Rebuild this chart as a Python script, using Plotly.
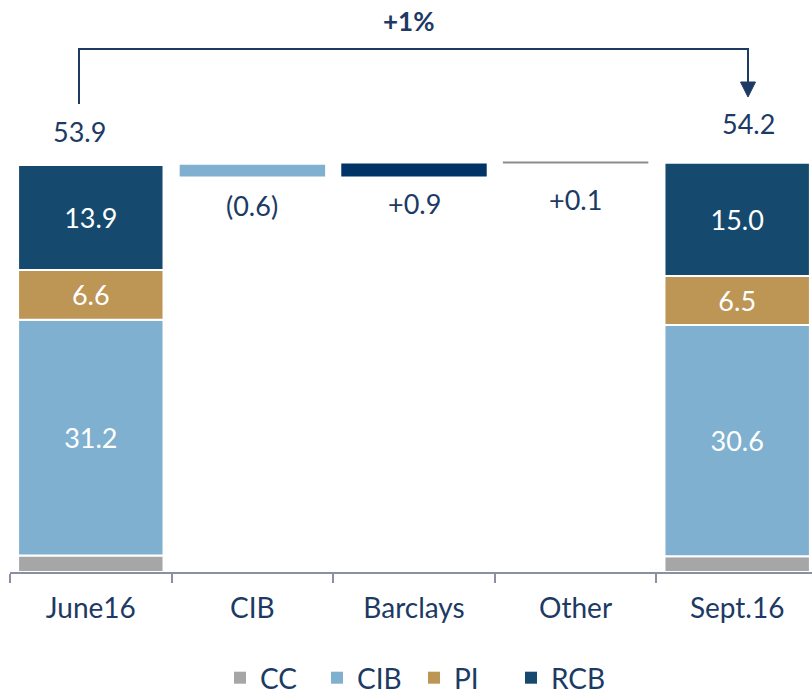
import numpy as np
import plotly.graph_objects as go

# ---------------- data ----------------
categories = ["June16", "CIB", "Barclays", "Other", "Sept.16"]
end_points = ["June16", "Sept.16"]
segments = ["CC", "CIB", "PI", "RCB"]
cc_values = [2.2, 2.1]
cib_values = [31.2, 30.6]
pi_values = [6.6, 6.5]
rcb_values = [13.9, 15.0]
segment_values = [cc_values, cib_values, pi_values, rcb_values]
segment_show_label = [False, True, True, True]
totals = [53.9, 54.2]

bridge_cats = ["CIB", "Barclays", "Other"]
bridge_labels = ["(0.6)", "+0.9", "+0.1"]
# extents of the bridge bars as drawn in the picture (axis units)
bridge_top = [53.95, 54.1, 54.37]
bridge_bottom = [52.4, 52.4, 54.1]
bridge_label_y = [48.5, 48.8, 49.3]
change_label = "+1%"

# ---------------- style ----------------
seg_colors = ["#a6a6a6", "#80b0cf", "#bd9555", "#154a6e"]
bridge_colors = ["#80b0cf", "#003366", "#8c8c8c"]
NAVY = "#1c3a64"
FONT = "Lato"
W, H = 812, 694
ML, MB = 10, 122
PLOT_H = H - MB
PX_PER_UNIT = 7.55
Y_MAX = PLOT_H / PX_PER_UNIT
CAT_PX = 161.6
X_MAX = -0.5 + (W - ML) / CAT_PX

fig = go.Figure()

base = np.zeros(len(end_points))
for name, vals, color, show in zip(segments, segment_values, seg_colors, segment_show_label):
    vals = np.array(vals)
    fig.add_trace(go.Bar(
        name=name, x=end_points, y=vals, base=base.copy(),
        marker=dict(color=color, line=dict(color="white", width=2)),
        text=[f"{v:.1f}" if show else "" for v in vals],
        textposition="inside", insidetextanchor="middle",
        textfont=dict(color="white", size=27, family=FONT),
        constraintext="none", hoverinfo="skip", showlegend=False,
    ))
    base = base + vals

# legend entries (solid squares, no white outline)
for name, color in zip(segments, seg_colors):
    fig.add_trace(go.Bar(name=name, x=[None], y=[None],
                         marker=dict(color=color, line=dict(width=0)),
                         showlegend=True, hoverinfo="skip"))

fig.add_trace(go.Bar(
    x=bridge_cats,
    y=np.array(bridge_top) - np.array(bridge_bottom),
    base=bridge_bottom,
    marker=dict(color=bridge_colors, line=dict(width=0)),
    showlegend=False, hoverinfo="skip",
))

annotations = []
for c, lab, ly in zip(bridge_cats, bridge_labels, bridge_label_y):
    annotations.append(dict(x=c, y=ly, text=lab, showarrow=False,
                            font=dict(size=27, color=NAVY, family=FONT),
                            xanchor="center", yanchor="middle"))


def px_x(p):
    return (p - ML) / (W - ML)


def px_y(p):
    return (PLOT_H - p) / PLOT_H


# total labels above the end bars
total_px_x = [79, 748]
total_px_y = [132, 124]
for t, xp, yp in zip(totals, total_px_x, total_px_y):
    annotations.append(dict(xref="paper", yref="paper", x=px_x(xp), y=px_y(yp),
                            text=f"{t:.1f}", showarrow=False,
                            font=dict(size=27, color=NAVY, family=FONT),
                            xanchor="center", yanchor="middle"))

annotations.append(dict(xref="paper", yref="paper", x=px_x(408), y=px_y(21),
                        text=f"<b>{change_label}</b>", showarrow=False,
                        font=dict(size=26, color=NAVY, family=FONT),
                        xanchor="center", yanchor="middle"))

shapes = []
lx, rx, top_y, lbot = 79, 748, 49, 104
abase, atip, ahw = 82, 97, 7.5
shapes.append(dict(type="path", xref="paper", yref="paper",
                   path=(f"M{px_x(lx)},{px_y(lbot)} L{px_x(lx)},{px_y(top_y)} "
                         f"L{px_x(rx)},{px_y(top_y)} L{px_x(rx)},{px_y(abase)}"),
                   line=dict(color=NAVY, width=2)))
shapes.append(dict(type="path", xref="paper", yref="paper",
                   path=(f"M{px_x(rx-ahw)},{px_y(abase)} L{px_x(rx+ahw)},{px_y(abase)} "
                         f"L{px_x(rx)},{px_y(atip)} Z"),
                   fillcolor=NAVY, line=dict(color=NAVY, width=1)))

fig.update_layout(
    width=W, height=H,
    margin=dict(l=ML, r=0, t=0, b=MB, autoexpand=False),
    barmode="overlay", bargap=0.1,
    plot_bgcolor="white", paper_bgcolor="white",
    font=dict(family=FONT, color=NAVY, size=26),
    xaxis=dict(type="category", categoryorder="array", categoryarray=categories,
               range=[-0.5, X_MAX], showline=True, linecolor="#8a8fa3", linewidth=2,
               ticks="outside", tickson="boundaries", ticklen=9, tickwidth=2,
               tickcolor="#8a8fa3", showgrid=False, zeroline=False,
               tickfont=dict(size=28, color=NAVY, family=FONT),
               ticklabelstandoff=10, automargin=False),
    yaxis=dict(range=[0, Y_MAX], visible=False, showgrid=False, zeroline=False),
    legend=dict(orientation="h", x=px_x(414), xanchor="center", y=px_y(703), yanchor="bottom",
                font=dict(size=28, color=NAVY, family=FONT), traceorder="normal",
                entrywidth=52, itemclick=False, bgcolor="rgba(0,0,0,0)"),
    annotations=annotations, shapes=shapes,
    showlegend=True,
)

fig.write_html(
    "out.html",
    config={"displayModeBar": False},
    post_script="document.body.style.margin='0';document.body.style.overflow='hidden';",
)
